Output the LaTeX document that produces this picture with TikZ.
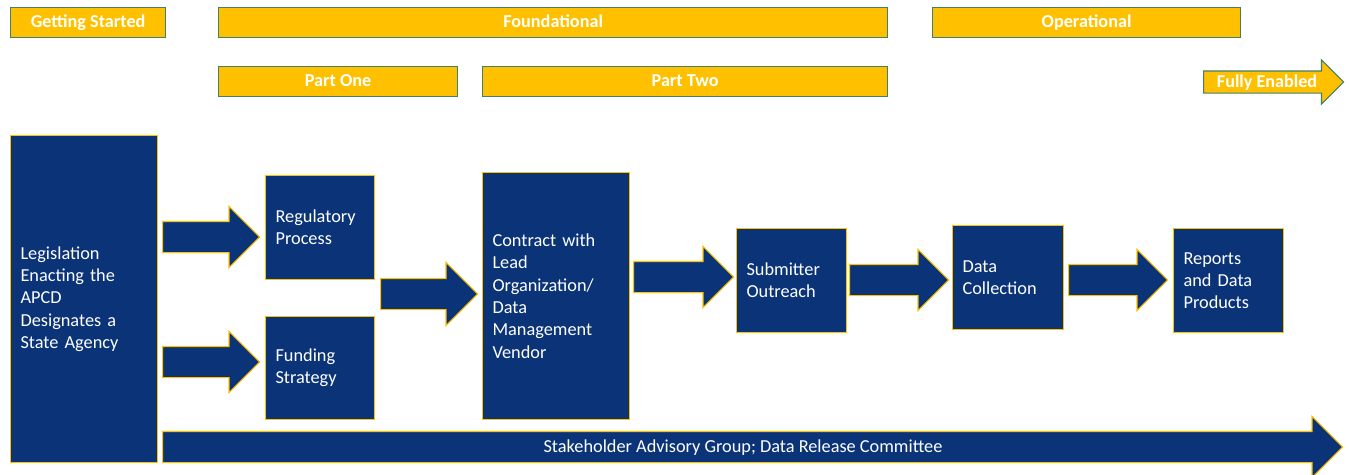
\documentclass[tikz,border=0pt]{standalone}
\usepackage{fontspec}
\setmainfont{Carlito}
\usetikzlibrary{shapes.arrows}

\definecolor{navy}{RGB}{11,52,120}
\definecolor{gold}{RGB}{255,192,0}
\definecolor{teal}{RGB}{62,128,108}

\begin{document}
\begin{tikzpicture}[x=1pt, y=-1pt,
  phase/.style={shape=rectangle, draw=teal, fill=gold, line width=1.2pt, anchor=north west,
    minimum height=30pt, inner sep=0pt, text height=13pt, text depth=3pt, text=white,
    font=\fontsize{18.2}{22}\selectfont\bfseries},
  stagebox/.style={shape=rectangle, draw=gold, fill=navy, line width=1.1pt, anchor=north west,
    inner xsep=10pt, inner ysep=0pt, align=left, text=white, font=\fontsize{18.3}{22.3}\selectfont},
  blockarrow/.style={shape=single arrow, draw=gold, fill=navy, line width=1.1pt, anchor=tail,
    inner xsep=0pt, inner ysep=15pt, single arrow head extend=15pt, single arrow tip angle=90,
    single arrow head indent=0pt}]
  \useasboundingbox (0,0) rectangle (1349,474);

  % phases
  \path (10,7)   node [phase, minimum width=155pt] (started) {Getting Started};
  \path (218,7)  node [phase, minimum width=669pt] (found) {Foundational};
  \path (932,7)  node [phase, minimum width=308pt] (oper) {Operational};
  \path (218,66) node [phase, minimum width=239pt] (partone) {Part One};
  \path (482,66) node [phase, minimum width=405pt] (parttwo) {Part Two};
  \path (1203,82) node [blockarrow, draw=teal, fill=gold, inner ysep=10.5pt, single arrow head extend=11pt,
    minimum height=140pt] (enabled) {};
  \path (1267,82) node [text=white, text height=13pt, text depth=3pt, inner sep=0pt,
    font=\fontsize{18.1}{22}\selectfont\bfseries] (enabledtext) {Fully Enabled};

  % stages
  \path (10,135)   node [stagebox, text width=127pt, minimum height=327pt] (leg) {Legislation\\Enacting the\\APCD\\Designates a\\State Agency};
  \path (265,175)  node [stagebox, text width=89pt, minimum height=104pt] (reg) {Regulatory\\Process};
  \path (265,316)  node [stagebox, text width=89pt, minimum height=103pt] (fund) {Funding\\Strategy};
  \path (482,172)  node [stagebox, text width=127pt, minimum height=247pt] (contract) {Contract with\\Lead\\Organization/\\Data\\Management\\Vendor};
  \path (736,228)  node [stagebox, text width=90pt, minimum height=104pt] (outreach) {Submitter\\Outreach};
  \path (952,225)  node [stagebox, text width=91pt, minimum height=104pt] (collect) {Data\\Collection};
  \path (1173,228) node [stagebox, text width=90pt, minimum height=104pt] (reports) {Reports\\and Data\\Products};

  % arrows
  \path (162,237)  node [blockarrow, minimum height=97pt] (toreg) {};
  \path (162,362)  node [blockarrow, minimum height=97pt] (tofund) {};
  \path (380,294)  node [blockarrow, minimum height=97pt, single arrow head extend=16pt] (tocontract) {};
  \path (633,277)  node [blockarrow, minimum height=100pt] (tooutreach) {};
  \path (849,280)  node [blockarrow, minimum height=99pt] (tocollect) {};
  \path (1068,280) node [blockarrow, minimum height=99pt] (toreports) {};

  \path (162,447)  node [blockarrow, minimum height=1180pt] (stake) {};
  \path (743,447)  node [text=white, text height=13pt, text depth=3pt, inner sep=0pt,
    font=\fontsize{18.3}{22}\selectfont] (staketext) {Stakeholder Advisory Group; Data Release Committee};
\end{tikzpicture}
\end{document}
